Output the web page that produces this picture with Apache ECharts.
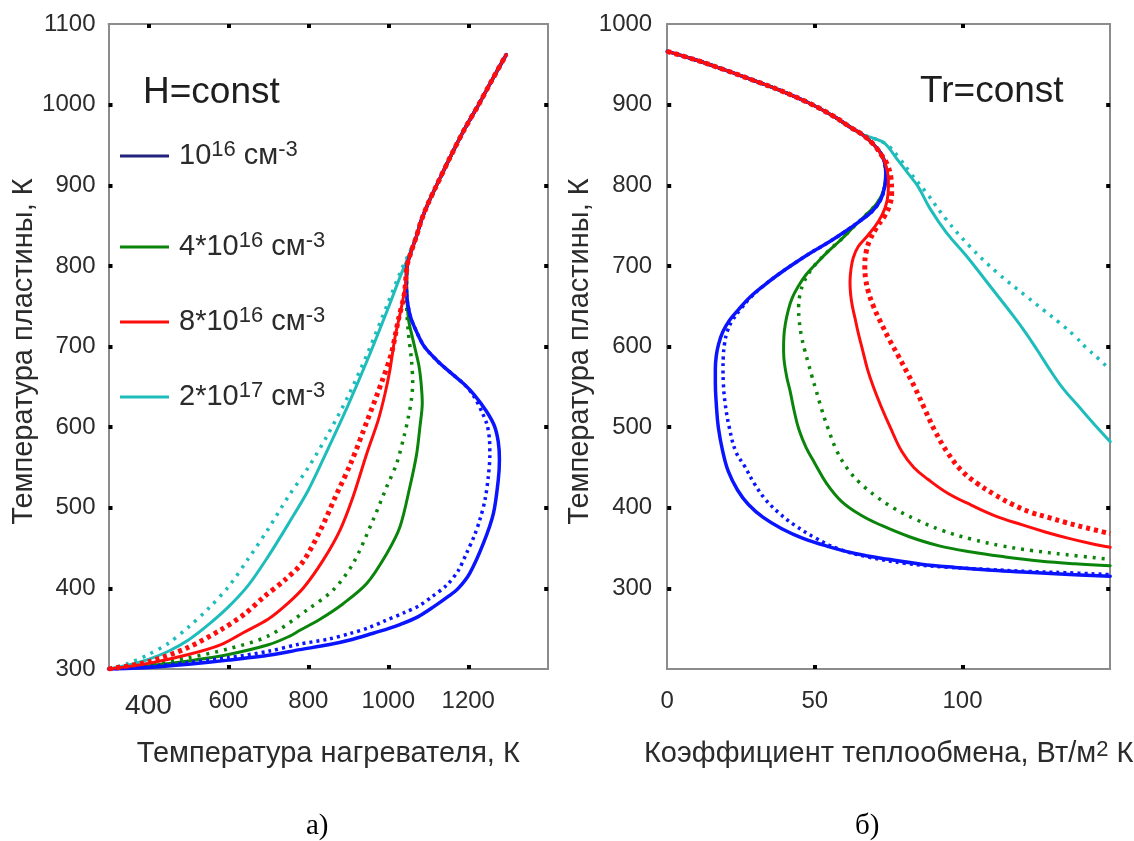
<!DOCTYPE html>
<html>
<head>
<meta charset="utf-8">
<script src="https://cdn.jsdelivr.net/npm/echarts@6/dist/echarts.min.js"></script>
<style>
html,body{margin:0;padding:0;background:#fff;}
#chart{width:1134px;height:841px;}
</style>
</head>
<body>
<div id="chart"></div>
<script>
// ---------- DATA: left panel (H=const)  [heater temperature, plate temperature] ----------
const leftCommon = [[1047,800],[1056,816],[1070,836],[1083,857],[1100,878],[1119,898],[1155,935],[1190,969],[1226,1000],[1260,1031],[1295,1062]];
const leftBlueSolid = [[300,300],[400,302],[500,306],[600,311],[700,317],[779,324],[850,330],[904,336],[960,344],[1000,350],[1029,355],[1075,365],[1113,377],[1150,390],[1175,400],[1204,419],[1238,456],[1263,493],[1275,534],[1278,560],[1275,582],[1265,602],[1245,620],[1215,640],[1188,654],[1150,670],[1121,683],[1090,700],[1071,718],[1056,736],[1048,755],[1045,775]];
const leftBlueDot = [[300,300],[400,303],[500,308],[600,314],[700,322],[779,331],[850,337],[904,344],[950,351],[988,359],[1040,370],[1079,379],[1110,390],[1146,404],[1175,422],[1196,444],[1215,465],[1229,485],[1242,510],[1250,538],[1254,565],[1253,585],[1247,603],[1235,618],[1212,640],[1188,654],[1150,670],[1121,683],[1090,700],[1071,718],[1056,736],[1048,755],[1045,775]];
const leftGreenSolid = [[300,300],[400,304],[500,310],[600,318],[700,330],[750,340],[779,348],[830,362],[887,381],[946,406],[996,443],[1029,476],[1054,526],[1071,567],[1079,600],[1085,630],[1082,655],[1077,675],[1068,695],[1060,712],[1051,732],[1047,755],[1046,780]];
const leftGreenDot = [[300,300],[400,306],[500,314],[600,325],[700,341],[796,373],[862,398],[912,431],[962,485],[996,526],[1021,555],[1040,590],[1050,612],[1058,635],[1061,655],[1058,683],[1050,718],[1046,750],[1046,780]];
const leftRedSolid = [[300,300],[400,307],[500,318],[580,330],[637,345],[700,362],[750,382],[790,402],[837,435],[879,472],[912,514],[946,567],[975,609],[992,642],[1004,671],[1017,712],[1033,749],[1044,780]];
const leftRedDot = [[300,300],[400,309],[496,326],[579,348],[640,368],[690,390],[740,410],[785,432],[830,472],[868,514],[906,555],[948,609],[985,658],[1008,692],[1025,733],[1040,765]];
const leftCyanSolid = [[300,300],[350,305],[400,312],[450,322],[500,336],[550,355],[600,377],[650,404],[700,440],[750,480],[800,522],[850,574],[900,628],[950,686],[1000,748],[1030,787],[1056,818]];
const leftCyanDot = [[300,300],[350,307],[400,318],[450,332],[500,352],[550,375],[600,402],[650,437],[700,474],[750,514],[800,550],[850,592],[900,639],[950,694],[1000,755],[1030,792],[1056,820]];

// ---------- DATA: right panel (Tr=const)  [heat transfer coefficient, plate temperature] ----------
const rightCommon = [[0,966],[10,955],[19.5,943],[30,929],[38,918],[48,902],[56.6,885],[62,872],[66,863],[70,850],[73,835]];
const rightBlueSolid = [[74,815],[73.7,800],[72.4,783],[69.5,768],[65,755],[60,742],[54.5,729],[48.5,716],[43,703],[37.5,689],[32.5,675],[28,661],[24.2,646],[21,632],[18.8,618],[17.4,603],[16.6,588],[16.3,572],[16.3,555],[16.6,530],[17.3,500],[18.8,470],[20.7,445],[23.8,422],[27.5,404],[32.5,388],[38.8,374],[46,362],[54.5,352],[64,343],[74.9,336],[86,330],[97.5,326],[110,322.5],[122,320],[134.7,317.5],[150,315]];
const rightBlueDot = [[74,815],[73.7,800],[72.4,783],[69.5,768],[65,755],[60,742],[54.5,729],[48.5,716],[43,703],[37.5,689],[32.5,675],[28.3,661],[24.8,646],[22,632],[20.3,618],[19.4,603],[19,588],[18.9,572],[19,555],[19.6,530],[21,500],[23.2,470],[26.3,451],[29.5,430],[33.1,411],[38,393],[43.3,378],[50,363],[57.9,349],[68,339],[80.5,331],[94,326.5],[108.7,323.5],[122,321],[134.7,319.5],[150,317]];
const rightGreenSolid = [[74,815],[73.6,798],[71.5,780],[67.5,764],[63,748],[59,733],[54.5,718],[50.5,703],[47,689],[44.3,674],[42.3,660],[41,645],[40,628],[39.5,612],[39.4,595],[39.7,579],[40.6,560],[41.6,545],[43,520],[44.6,497],[47,475],[50,455],[54,430],[59,408],[65.5,391],[72.6,378],[82,364],[91.8,353],[103,345],[114.4,339],[126,334],[138,330.5],[150,328]];
const rightGreenDot = [[74,815],[73.6,798],[71.5,780],[67.5,764],[63,748],[59,733],[55,720],[51.5,707],[48.5,694],[46.3,680],[45,665],[44.5,650],[44.7,632],[45.5,612],[46.6,595],[47.8,579],[49,563],[50.3,547],[52.3,522],[54.5,498],[57.5,470],[61.3,447],[65.5,430],[70.4,415],[76.5,400],[83.9,386],[93,372],[103.1,361],[113,353],[123.4,347],[134.7,342],[150,336]];
const rightRedSolid = [[74.5,818],[74.9,805],[74.8,790],[73.8,772],[71.5,755],[68,738],[64.7,724],[63,710],[62.2,695],[61.9,680],[62.1,665],[62.7,650],[63.6,635],[64.8,615],[66.2,595],[67.8,572],[69.8,550],[72.5,525],[75.5,500],[79.4,470],[83.5,450],[88.4,435],[95,418],[103.1,403],[111,390],[120,379],[128,370],[136,362],[143,356],[150,351]];
const rightRedDot = [[74.5,826],[75.8,808],[76,790],[75.3,775],[73.6,762],[71,748],[68.6,732],[67.3,716],[66.9,700],[67.2,684],[68.1,668],[69.8,650],[72.3,630],[75.3,608],[78.3,588],[81.2,568],[84,548],[87,524],[90.7,495],[95,468],[99.7,446],[105,430],[111,416],[117,404],[123.4,394],[129,388],[134.7,382],[142,375],[150,368]];
const rightCyanSolid = [[70,858],[73.7,852],[77.7,833],[81.5,815],[85,798],[89,771],[94.6,741],[101.4,712],[109.3,675],[117.2,638],[121.4,617],[125.4,595],[129.6,571],[134,548],[139,527],[144.5,504],[150,482]];
const rightCyanDot = [[70,858],[74.5,850],[78.5,834],[82.2,816],[87.9,790],[94.6,757],[102.5,724],[111.6,692],[121.7,662],[127.5,645],[133,629],[138,613],[142,598],[146,585],[150,571]];

// ---------- ticks & labels ----------
const leftXLabels = [400,600,800,1000,1200];
const leftYTicks = [400,500,600,700,800,900,1000];
const rightXLabels = [0,50,100];
const rightXTicks = [50,100];
const rightYLabels = [300,400,500,600,700,800,900,1000];
const rightYTicks = [300,400,500,600,700,800,900];
const legendNames = ['c1','c4','c8','c20'];
const legendLabels = ['{n|10}{s|16}{n| см}{s|-3}','{n|4*10}{s|16}{n| см}{s|-3}','{n|8*10}{s|16}{n| см}{s|-3}','{n|2*10}{s|17}{n| см}{s|-3}'];
const legendRowsY = [156,247,322,397];

// ---------- styling ----------
const FONT = 'Liberation Sans, Arial, sans-serif';
const TXT = '#2b2b2b';
const GRAY = '#8c8c8c';
const C_BLUE = '#0a14ff', C_GREEN = '#0b840b', C_RED = '#ff0d0d', C_CYAN = '#1fbcbc';
const legendSwatch = ['#23237d', C_GREEN, C_RED, C_CYAN];
const plain = function (v) { return String(v); };

function line(name, data, xi, yi, color, width, dash, z, sm) {
  return {
    type: 'line', name: name, data: data, xAxisIndex: xi, yAxisIndex: yi,
    symbol: 'none', showSymbol: false, smooth: sm, silent: true, z: z,
    lineStyle: { color: color, width: width, type: dash || 'solid', cap: dash ? 'butt' : 'round', join: 'round' }
  };
}
function frameX(grid, min, max, pos, ticks, labels, extra) {
  return Object.assign({
    type: 'value', gridIndex: grid, min: min, max: max, position: pos,
    axisLine: { show: true, onZero: false, lineStyle: { color: GRAY, width: 2 } },
    axisTick: { show: true, inside: true, length: 4, customValues: ticks, lineStyle: { color: '#000', width: 4 } },
    axisLabel: labels ? { show: true, customValues: labels, formatter: plain, fontSize: 24, color: TXT, fontFamily: FONT, margin: 20 } : { show: false },
    splitLine: { show: false }
  }, extra || {});
}
function frameY(grid, min, max, pos, ticks, labels, margin, extra) {
  return Object.assign({
    type: 'value', gridIndex: grid, min: min, max: max, interval: 100, position: pos,
    axisLine: { show: true, onZero: false, lineStyle: { color: GRAY, width: 2 } },
    axisTick: { show: true, inside: true, length: 4, customValues: ticks, lineStyle: { color: '#000', width: 4 } },
    axisLabel: labels ? { show: true, customValues: labels, formatter: plain, fontSize: 24, color: TXT, fontFamily: FONT, margin: margin } : { show: false },
    splitLine: { show: false }
  }, extra || {});
}

const nameStyle = { fontSize: 29, color: TXT, fontFamily: FONT };
const yNameStyle = { fontSize: 29, color: TXT, fontFamily: FONT, padding: [0, 10, 0, 0] };
const titleStyle = { fontSize: 37, fontWeight: 'normal', color: '#1e1e1e', fontFamily: FONT };
const capStyle = { fontSize: 29, fontWeight: 'normal', color: '#000', fontFamily: 'Liberation Serif, Times New Roman, serif' };

const option = {
  animation: false,
  backgroundColor: '#fff',
  textStyle: { fontFamily: FONT },
  grid: [
    { left: 108.5, top: 24, width: 439.7, height: 645, outerBoundsMode: 'none', containLabel: false },
    { left: 667.2, top: 24, width: 443, height: 645, outerBoundsMode: 'none', containLabel: false }
  ],
  xAxis: [
    frameX(0, 300, 1400, 'bottom', leftXLabels, leftXLabels, {
      name: 'Температура нагревателя, К', nameLocation: 'middle', nameGap: 70, nameTextStyle: nameStyle,
      axisLabel: { show: true, customValues: leftXLabels, fontSize: 24, color: TXT, fontFamily: FONT, margin: 20,
        formatter: function (v) { return v === 400 ? '{b|400}' : String(v); },
        rich: { b: { fontSize: 28, color: TXT, fontFamily: FONT, padding: [3, 0, 0, 0] } } }
    }),
    frameX(0, 300, 1400, 'top', leftXLabels, null),
    frameX(1, 0, 150, 'bottom', rightXTicks, rightXLabels, {
      name: 'Коэффициент теплообмена, Вт/м{s|2} К', nameLocation: 'middle', nameGap: 70,
      nameTextStyle: Object.assign({}, nameStyle, { rich: { s: { fontSize: 22, color: TXT, fontFamily: FONT, lineHeight: 26, verticalAlign: 'top' } } })
    }),
    frameX(1, 0, 150, 'top', rightXTicks, null)
  ],
  yAxis: [
    frameY(0, 300, 1100, 'left', leftYTicks, null, 13, {
      axisLabel: { show: true, formatter: plain, fontSize: 24, color: TXT, fontFamily: FONT, margin: 13 },
      name: 'Температура пластины, К', nameLocation: 'middle', nameGap: 66, nameRotate: 90, nameTextStyle: yNameStyle
    }),
    frameY(0, 300, 1100, 'right', leftYTicks, null, 13),
    frameY(1, 200, 1000, 'left', rightYTicks, rightYLabels, 15, {
      name: 'Температура пластины, К', nameLocation: 'middle', nameGap: 52, nameRotate: 90, nameTextStyle: yNameStyle
    }),
    frameY(1, 200, 1000, 'right', rightYTicks, null, 15)
  ],
  legend: legendRowsY.map(function (y, i) {
    return {
      data: [{ name: legendNames[i], itemStyle: { color: legendSwatch[i] } }],
      left: 120, top: y - 17, padding: 0, itemWidth: 49, itemHeight: 3, icon: 'rect', itemGap: 0,
      selectedMode: false,
      formatter: function () { return '{g|}' + legendLabels[i]; },
      textStyle: {
        color: TXT, fontFamily: FONT, fontSize: 29,
        rich: {
          g: { width: 5 },
          n: { fontSize: 29, color: TXT, fontFamily: FONT, lineHeight: 34 },
          s: { fontSize: 22, color: TXT, fontFamily: FONT, lineHeight: 26, verticalAlign: 'top' }
        }
      }
    };
  }),
  title: [
    { text: 'H=const', left: 143, top: 74, padding: 0, textStyle: titleStyle },
    { text: 'Tr=const', left: 920, top: 73, padding: 0, textStyle: titleStyle },
    { text: 'а)', left: 306, top: 812, padding: 0, textStyle: capStyle },
    { text: 'б)', left: 855, top: 812, padding: 0, textStyle: capStyle }
  ],
  series: [
    line('c20', leftCyanSolid.concat(leftCommon.slice(2)), 0, 0, C_CYAN, 3, null, 2, 0.3),
    line('c20d', leftCyanDot.concat(leftCommon.slice(2)), 0, 0, C_CYAN, 3.5, [3, 6], 2, 0.3),
    line('c4', leftGreenSolid.concat(leftCommon), 0, 0, C_GREEN, 3, null, 3, 0.3),
    line('c4d', leftGreenDot.concat(leftCommon), 0, 0, C_GREEN, 3.5, [3, 6], 3, 0.3),
    line('c1', leftBlueSolid.concat(leftCommon), 0, 0, C_BLUE, 3.5, null, 4, 0.3),
    line('c1d', leftBlueDot.concat(leftCommon), 0, 0, C_BLUE, 3.5, [3, 4], 4, 0.3),
    line('c8', leftRedSolid.concat(leftCommon), 0, 0, C_RED, 3, null, 5, 0.3),
    line('c8d', leftRedDot.concat(leftCommon), 0, 0, C_RED, 5, [4, 4], 5, 0.3),

    line('r20', rightCommon.slice(0, 9).concat(rightCyanSolid), 2, 2, C_CYAN, 3, null, 2, 0.4),
    line('r20d', rightCommon.slice(0, 9).concat(rightCyanDot), 2, 2, C_CYAN, 3.5, [3, 6], 2, 0.4),
    line('r4', rightCommon.concat(rightGreenSolid), 2, 2, C_GREEN, 3, null, 3, 0.4),
    line('r4d', rightCommon.concat(rightGreenDot), 2, 2, C_GREEN, 3.5, [3, 6], 3, 0.4),
    line('r1', rightCommon.concat(rightBlueSolid), 2, 2, C_BLUE, 3.5, null, 4, 0.4),
    line('r1d', rightCommon.concat(rightBlueDot), 2, 2, C_BLUE, 3.5, [3, 4], 4, 0.4),
    line('r8', rightCommon.concat(rightRedSolid), 2, 2, C_RED, 3, null, 5, 0.4),
    line('r8d', rightCommon.concat(rightRedDot), 2, 2, C_RED, 5, [4, 4], 5, 0.4)
  ]
};

const chart = echarts.init(document.getElementById('chart'), null, { renderer: 'canvas' });
chart.setOption(option);
</script>
</body>
</html>
